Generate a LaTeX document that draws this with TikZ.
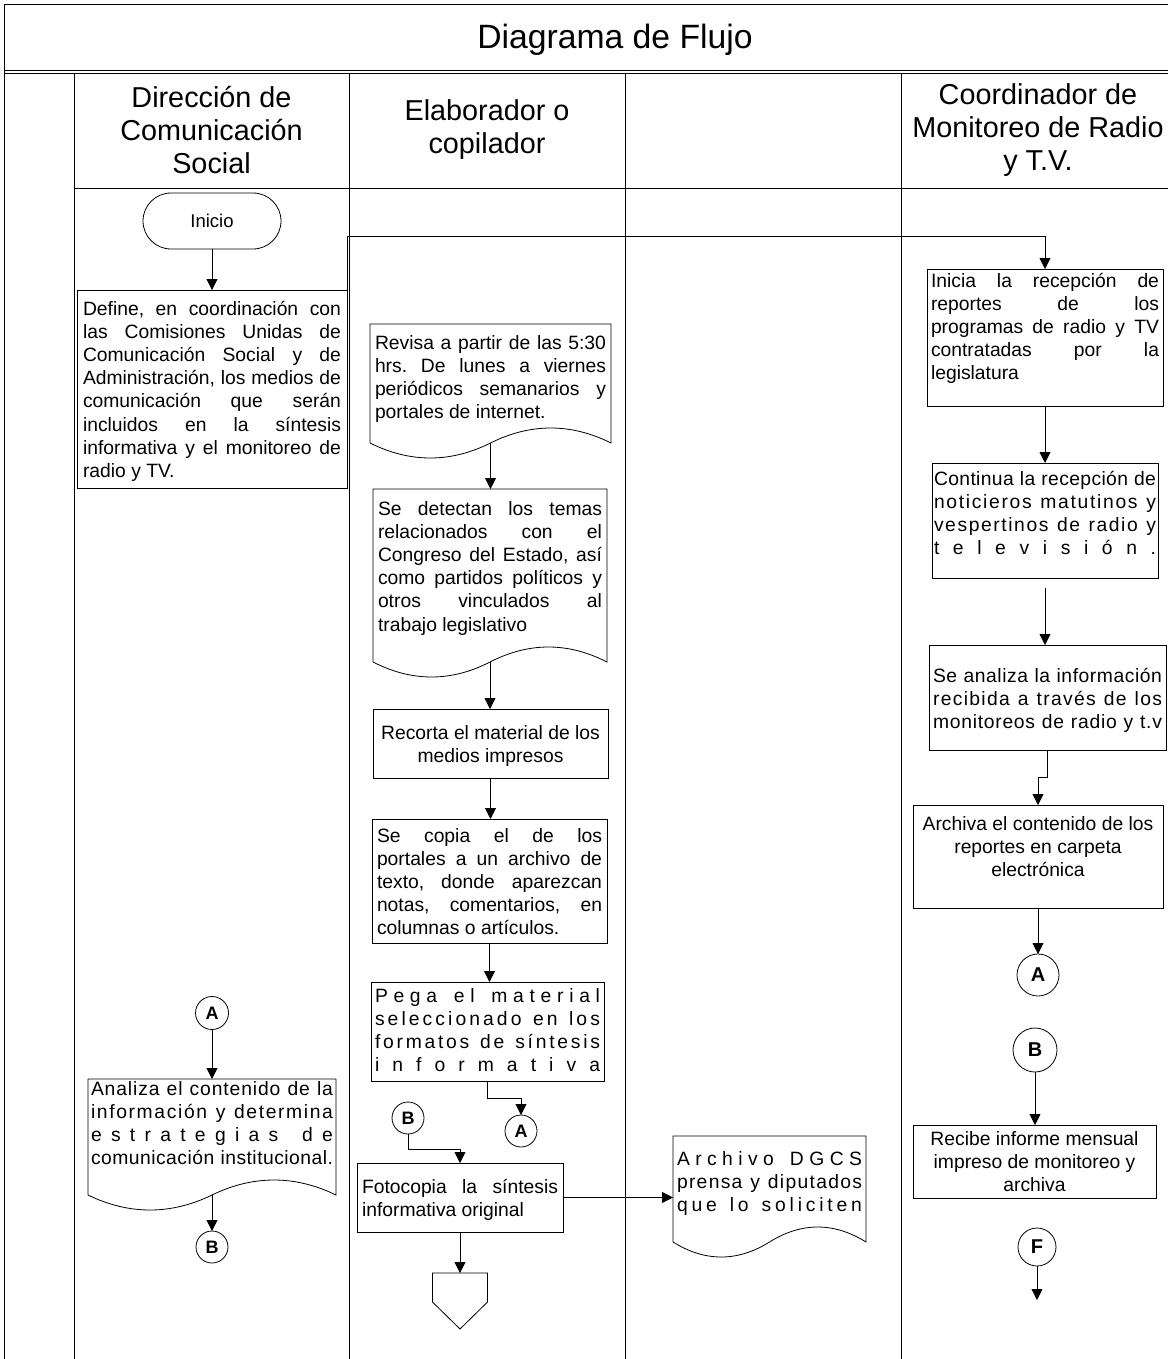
\documentclass[tikz,border=0pt]{standalone}
\usepackage{fontspec}
\setmainfont{Liberation Sans}
\frenchspacing
\usetikzlibrary{arrows.meta,calc}

% letter-by-letter spreading for "distributed" lines; | marks a word space
\makeatletter
\def\dist@bar{|}
\newcommand\spreadchars[1]{\@tfor\dist@c:=#1\do{\ifx\dist@c\dist@bar\ \hfil\else\dist@c\hfil\fi}\unskip}
\makeatother
\newcommand\lnJ[1]{\makebox[\linewidth][s]{\strut #1}\par}
\newcommand\lnD[1]{\makebox[\linewidth][s]{\strut\spreadchars{#1}}\par}
\newcommand\lnL[1]{\strut #1\par}
\newcommand\lnC[1]{\makebox[\linewidth][c]{\strut #1}\par}
% width, height, top padding, lines
\newcommand\boxtext[4]{\parbox[c][#2pt][t]{#1pt}{\fontsize{19.3}{23.2}\selectfont\vspace*{#3pt}#4}}

\tikzset{
  ln/.style={line width=0.8pt},
  proc/.style={draw, line width=0.8pt, rectangle, inner ysep=0pt, anchor=north west, outer sep=0pt},
  doctext/.style={rectangle, inner ysep=0pt, anchor=north west, outer sep=0pt},
  conn/.style={draw, circle, line width=0.8pt, inner sep=0pt, outer sep=0pt},
  arr/.style={line width=0.8pt, -{Triangle[width=11pt,length=11pt]}},
  hdr/.style={align=center, font=\fontsize{28.8}{33}\selectfont},
}

% document symbol: box with a wavy lower edge
\newcommand\docoutline[2]{%
  \draw[ln] (#1.south west) -- (#1.north west) -- (#1.north east) -- (#1.south east)
    .. controls ($(#1.south east)+(-#2,-20)$) and ($(#1.south)+(#2,-20)$) .. (#1.south)
    .. controls ($(#1.south)+(-#2,20)$) and ($(#1.south west)+(#2,20)$) .. (#1.south west);}

\begin{document}
\begin{tikzpicture}[x=1pt,y=-1pt]
\useasboundingbox (0,0) rectangle (1167,1359);

% frame, title band and swimlanes
\draw[ln] (4,1359) -- (4,4) -- (1170,4);
\draw[ln] (4,70.5) -- (1170,70.5);
\draw[ln] (4,73) -- (1170,73);
\foreach \lx in {74,349,625,901} \draw[ln] (\lx,73) -- (\lx,1359);
\draw[ln] (74,188) -- (1170,188);

\node[font=\fontsize{33.7}{40}\selectfont] (title) at (615,40) {Diagrama de Flujo};
\node[hdr] (h1) at (211.5,130) {Dirección de\\Comunicación\\Social};
\node[hdr] (h2) at (487,130) {Elaborador o\\copilador};
\node[hdr] (h4) at (1038,130) {Coordinador de\\Monitoreo de Radio\\y T.V.};

% lane 1: Dirección de Comunicación Social
\node[draw, ln, rounded corners=28pt, minimum width=138pt, minimum height=56pt,
      font=\fontsize{18.5}{18.5}\selectfont] (inicio) at (212,221) {Inicio};
\node[proc, inner xsep=6pt] (define) at (77,290) {\boxtext{258}{198}{8.8}{%
  \lnJ{Define, en coordinación con}\lnJ{las Comisiones Unidas de}%
  \lnJ{Comunicación Social y de}\lnJ{Administración, los medios de}%
  \lnJ{comunicación que serán}\lnJ{incluidos en la síntesis}%
  \lnJ{informativa y el monitoreo de}\lnL{radio y TV.}}};
\node[conn, minimum size=33pt, font=\fontsize{18}{18}\selectfont\bfseries] (aleft) at (212,1013) {A};
\node[doctext, inner xsep=3pt] (analiza) at (88,1079) {\boxtext{242}{116}{0}{%
  \lnD{Analiza|el|contenido|de|la}\lnD{información|y|determina}%
  \lnD{estrategias|de}\lnD{comunicación|institucional.}}};
\docoutline{analiza}{41}
\node[conn, minimum size=32pt, font=\fontsize{18}{18}\selectfont\bfseries] (bleft) at (212,1247) {B};

% lane 2: Elaborador o copilador
\node[doctext, inner xsep=5pt] (revisa) at (370,324) {\boxtext{231}{119}{8.8}{%
  \lnJ{Revisa a partir de las 5:30}\lnJ{hrs. De lunes a viernes}%
  \lnJ{periódicos semanarios y}\lnL{portales de internet.}}};
\docoutline{revisa}{40}
\node[doctext, inner xsep=5pt] (detectan) at (373,489) {\boxtext{224}{173}{9.8}{%
  \lnJ{Se detectan los temas}\lnJ{relacionados con el}%
  \lnJ{Congreso del Estado, así}\lnJ{como partidos políticos y}%
  \lnJ{otros vinculados al}\lnL{trabajo legislativo}}};
\docoutline{detectan}{39}
\node[proc, inner xsep=5pt] (recorta) at (373,709) {\boxtext{225}{69}{13.8}{%
  \lnC{Recorta el material de los}\lnC{medios impresos}}};
\node[proc, inner xsep=5pt] (copia) at (372,819) {\boxtext{225}{124}{6.8}{%
  \lnJ{Se copia el de los}\lnJ{portales a un archivo de}%
  \lnJ{texto, donde aparezcan}\lnJ{notas, comentarios, en}%
  \lnL{columnas o artículos.}}};
\node[proc, inner xsep=4pt] (pega) at (371,982) {\boxtext{225}{99}{3.8}{%
  \lnD{Pega|el|material}\lnD{seleccionado|en|los}%
  \lnD{formatos|de|síntesis}\lnD{informativa}}};
\node[conn, minimum size=32pt, font=\fontsize{18}{18}\selectfont\bfseries] (amid) at (521,1131) {A};
\node[conn, minimum size=32pt, font=\fontsize{18}{18}\selectfont\bfseries] (bmid) at (408,1118) {B};
\node[proc, inner xsep=5pt] (fotocopia) at (357,1163) {\boxtext{196}{69}{13.8}{%
  \lnJ{Fotocopia la síntesis}\lnL{informativa original}}};
\coordinate (offpage) at (460,1273);
\draw[ln] ($(offpage)+(-27.5,0)$) -- ($(offpage)+(27.5,0)$) -- ($(offpage)+(27.5,29)$)
  -- ($(offpage)+(0,56)$) -- ($(offpage)+(-27.5,29)$) -- cycle;

% lane 3
\node[doctext, inner xsep=4pt] (archivo) at (673,1136) {\boxtext{185}{106}{12.8}{%
  \lnD{Archivo|DGCS}\lnD{prensa|y|diputados}\lnD{que|lo|soliciten}}};
\docoutline{archivo}{32}

% lane 4: Coordinador de Monitoreo de Radio y T.V.
\node[proc, inner xsep=4pt] (inicia) at (927,269) {\boxtext{228}{137}{1.8}{%
  \lnJ{Inicia la recepción de}\lnJ{reportes de los}%
  \lnJ{programas de radio y TV}\lnJ{contratadas por la}\lnL{legislatura}}};
\node[proc, inner xsep=2pt] (continua) at (932,463) {\boxtext{222}{115}{5.8}{%
  \lnD{Continua|la|recepción|de}\lnD{noticieros|matutinos|y}%
  \lnD{vespertinos|de|radio|y}\lnD{televisión.}}};
\node[proc, inner xsep=4pt] (analizainfo) at (929,645) {\boxtext{229}{105}{21}{%
  \lnD{Se|analiza|la|información}\lnD{recibida|a|través|de|los}%
  \lnD{monitoreos|de|radio|y|t.v}}};
\node[proc, inner xsep=5pt] (archiva) at (913,805) {\boxtext{240}{103}{8.8}{%
  \lnC{Archiva el contenido de los}\lnC{reportes en carpeta}\lnC{electrónica}}};
\node[conn, minimum size=42pt, font=\fontsize{20}{20}\selectfont\bfseries] (aright) at (1038,975) {A};
\node[conn, minimum size=44pt, font=\fontsize{20}{20}\selectfont\bfseries] (bright) at (1035,1050) {B};
\node[proc, inner xsep=5pt] (recibe) at (913,1125) {\boxtext{233}{73}{3.8}{%
  \lnC{Recibe informe mensual}\lnC{impreso de monitoreo y}\lnC{archiva}}};
\node[conn, minimum size=38pt, font=\fontsize{20}{20}\selectfont\bfseries] (fcirc) at (1037,1247) {F};
\coordinate (fend) at (1037,1300);

% connectors
\coordinate (toprun) at (0,236);
\draw[arr] (inicio.south) -- (define.north);
\draw[arr] (define.north east) -- (define.north east |- toprun) -| (inicia.north);
\draw[arr] (aleft.south) -- (aleft.south |- analiza.north);
\draw[arr] (analiza.south) -- (bleft.north);
\draw[arr] (revisa.south) -- (revisa.south |- detectan.north);
\draw[arr] (detectan.south) -- (detectan.south |- recorta.north);
\draw[arr] (recorta.south) -- (recorta.south |- copia.north);
\draw[arr] (copia.south) -- (copia.south |- pega.north);
\draw[arr] (pega.south) -- ++(0,17) -| (amid.north);
\draw[arr] (bmid.south) -- ++(0,15) -| (fotocopia.north);
\draw[arr] (fotocopia.east) -- (fotocopia.east -| archivo.west);
\draw[arr] (fotocopia.south) -- (offpage);
\draw[arr] (inicia.south) -- (inicia.south |- continua.north);
\draw[arr] ([yshift=-10pt]continua.south) -- (continua.south |- analizainfo.north);
\draw[arr] (analizainfo.south) -- ++(0,27) -| (archiva.north);
\draw[arr] (archiva.south) -- (aright.north);
\draw[arr] (bright.south) -- (bright.south |- recibe.north);
\draw[arr] (fcirc.south) -- (fend);
\end{tikzpicture}
\end{document}
